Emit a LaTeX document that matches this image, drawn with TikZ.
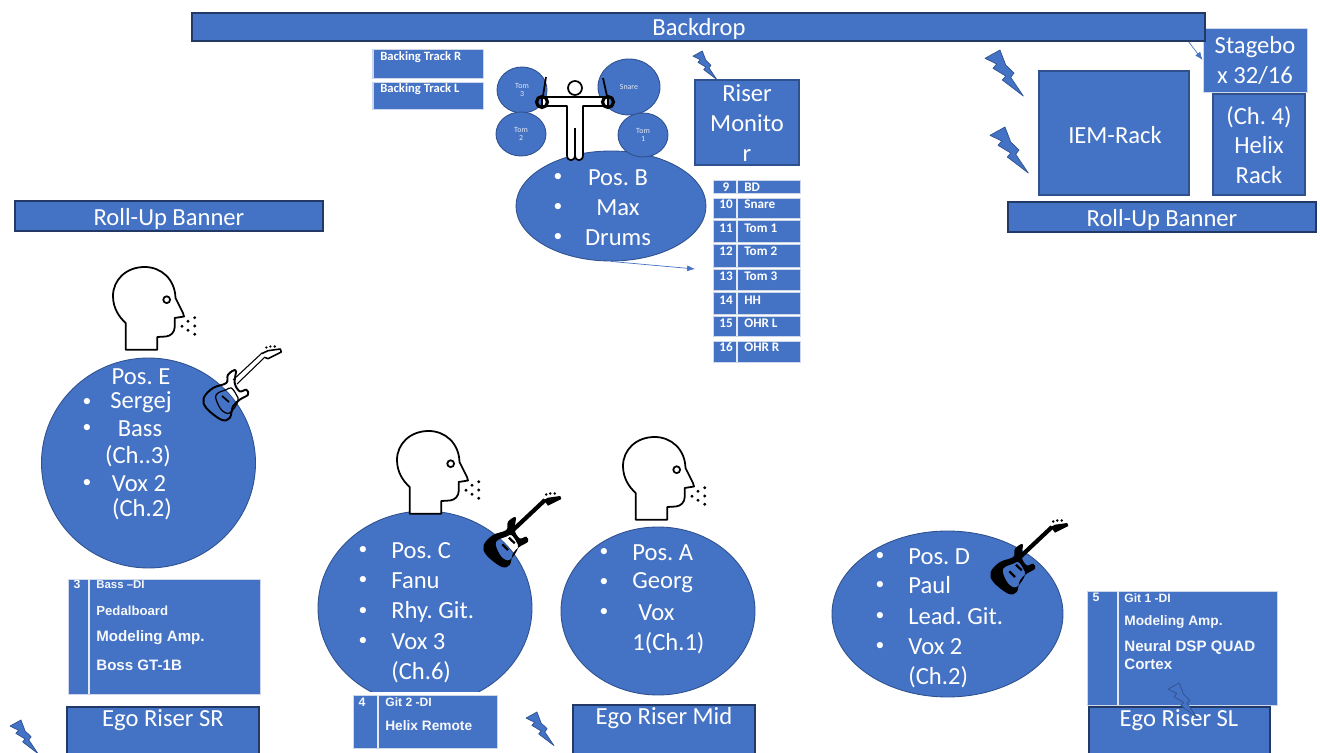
\documentclass[tikz,border=0pt]{standalone}
\usepackage{xcolor}
\usepackage{fontspec}
\setmainfont{Carlito}
\newfontfamily\arialfont{Liberation Sans}
\usepackage{tikz}
\usetikzlibrary{shapes.geometric,arrows.meta}
\definecolor{stageblue}{HTML}{4472C4}
\definecolor{stageline}{HTML}{2F528F}
\definecolor{tableline}{HTML}{CFD7EA}
\def\px{0.02cm}
\def\guitarbody{plot[smooth cycle,tension=0.6] coordinates {(33.7,24.3) (26,28.7) (24.3,37) (11,42) (1.7,52) (4.3,62) (19.3,73.7) (27.7,72) (31,60.3) (37.7,53.7) (46,48.7) (44.3,43.7) (37.7,45.3) (32.7,37)}}
\def\guitarhole{plot[smooth cycle,tension=0.6] coordinates {(24.3,43.7) (16,47) (13.7,52) (19.3,63.7) (27.7,67) (36,55.3) (34.3,48.7) (29.3,42)}}
\tikzset{
	txt/.style={text=white,inner sep=0pt,yshift=-0.03cm,font=\fontsize{14}{17}\selectfont\frenchspacing,align=center},
	bul/.style={text=white,inner sep=0pt,yshift=-0.03cm,font=\fontsize{10}{12}\selectfont},
	smalltxt/.style={text=white!85!stageblue,inner sep=0pt,font=\fontsize{4.5}{4.9}\selectfont,align=center},
	tagtxt/.style={text=white,inner sep=0pt,anchor=west,font=\fontsize{7.5}{9}\selectfont\bfseries},
	tagarial/.style={text=white!95!stageblue,inner sep=0pt,anchor=west,font=\fontsize{#1}{10.5}\selectfont\arialfont\bfseries,align=left},
	band/.style={draw=stageline,fill=stageblue,line width=0.6pt,inner sep=0pt},
	darkband/.style={draw=stageline!70!black,fill=stageblue,line width=0.7pt,inner sep=0pt},
	lightbox/.style={draw=tableline,fill=stageblue,line width=0.5pt,inner sep=0pt},
	drum/.style={ellipse,draw=stageline,fill=stageblue,line width=0.5pt,inner sep=0pt},
	wire/.style={stageblue,line width=0.4pt,-{Latex[length=4.5pt,width=3.5pt]}},
	pics/head/.style={code={
		\draw[black,fill=white,line width=1pt,line join=round] (12.7,82.7) -- (44.3,82.7) -- (44.3,70)
			-- (53,69.5) .. controls (58,69) and (61.7,65) .. (61.7,60) -- (61.7,51) -- (71,49.5)
			-- (70,46) -- (62.5,31) .. controls (62,12) and (48,0) .. (31.7,0)
			.. controls (13,0) and (0,13) .. (0,29) .. controls (0,41) and (6,50) .. (12.7,56) -- cycle;
		\draw[black,line width=1pt] (53.7,32.7) circle (3.4);
		\foreach \i/\j in {81.7/50.7,75/54.3,69/59.3,81.7/59,75/63.3,81.7/67.3}{
			\fill[black] (\i,\j) circle (1.6);
		}
	}},
	pics/guitarline/.style={code={
		\draw[black,line width=0.6pt] (31,34) -- (60,7) (35,38) -- (63,11);
		\draw[black,line width=0.9pt,line join=round] (60,7.5) -- (66,4.7) -- (78.3,3) -- (79.3,6) -- (66,12.7) -- (63,11.5);
		\foreach \i/\j in {64.3/1.5,68.3/0.5,72.7/0.5}{
			\fill[black] (\i,\j) circle (1.3);
		}
		\draw[black,line width=1.1pt,line join=round] \guitarbody;
		\draw[black,line width=0.7pt] \guitarhole;
		\draw[black,line width=1pt] (20,50) -- (27,56);
	}},
	pics/guitarsolid/.style={code={
		\draw[black,line width=2.4pt] (30,38) -- (63,7);
		\fill[black,line join=round] (61.7,7) -- (66,4.7) -- (78.3,3) -- (79.3,6) -- (66,12.7) -- cycle;
		\foreach \i/\j in {64.3/1.5,68.3/0.5,72.7/0.5}{
			\fill[black] (\i,\j) circle (1.4);
		}
		\fill[black,even odd rule] \guitarbody \guitarhole;
		\draw[black,line width=1.3pt] (20.3,51.3) -- (26,57) (27,44.7) -- (32.7,50.3);
	}},
	pics/bolt/.style={code={
		\draw[stageline,fill=#1,line width=0.4pt,line join=round] (0,8.3) -- (15,0) -- (20.7,15) -- (29,23) -- (25.7,27.3) -- (38.3,46) -- (17.3,30) -- (20.7,26) -- (8,18.3) -- (11.7,14) -- cycle;
	}}
}

\begin{document}
\begin{tikzpicture}[x=\px,y=-\px]
	\clip (0,0) rectangle (1320,753);
	\useasboundingbox (0,0) rectangle (1320,753);

	%Backdrop and rack side
	\coordinate (backdropOut) at (1188,41);
	\node[lightbox,minimum width=104*\px,minimum height=64*\px] (stagebox) at (1255,60) {};
	\draw[wire] (backdropOut) -- (stagebox.west);
	\node[darkband,minimum width=1013*\px,minimum height=28*\px] (backdrop) at (698.5,27) {};
	\node[txt] (backdroptxt) at (699,27) {Backdrop};
	\node[txt] (stageboxtxt) at (1255,59) {Stagebo\\x 32/16};
	\node[band,minimum width=92*\px,minimum height=101*\px] (helix) at (1259,144.5) {};
	\node[txt] (helixtxt) at (1259,143.5) {(Ch. 4)\\Helix\\Rack};
	\node[band,minimum width=150*\px,minimum height=124*\px] (iem) at (1114,133) {};
	\node[txt] (iemtxt) at (1115,134) {IEM-Rack};
	\node[darkband,minimum width=308*\px,minimum height=30*\px] (bannerR) at (1162,217) {};
	\node[txt] (bannerRtxt) at (1162,218) {Roll-Up Banner};
	\node[darkband,minimum width=308*\px,minimum height=30*\px] (bannerL) at (169,216) {};
	\node[txt] (bannerLtxt) at (169,217) {Roll-Up Banner};

	%Backing tracks
	\foreach \n/\y/\h/\t in {R/63.5/29/Backing Track R,L/95.5/27/Backing Track L}{
		\node[lightbox,minimum width=111*\px,minimum height=\h*\px] (track\n) at (427.5,\y) {};
		\draw[tableline,line width=0.5pt] (373.5,\y-\h/2) -- (373.5,\y+\h/2);
	}
	\node[tagtxt,font=\fontsize{7.2}{9}\selectfont\bfseries] (trackRtxt) at (380,57) {Backing Track R};
	\node[tagtxt,font=\fontsize{7.2}{9}\selectfont\bfseries] (trackLtxt) at (380,89) {Backing Track L};

	%Pos. B with the drums
	\node[drum,minimum width=190*\px,minimum height=110*\px] (posB) at (611,206) {};
	\foreach \y/\t in {176/{Pos. B},206/Max,236/Drums}{
		\node[bul] (bBul\y) at (558,\y) {•};
		\node[txt] (bTxt\y) at (618,\y) {\t};
	}
	\node[drum,smalltxt,minimum width=50*\px,minimum height=46*\px] (tomC) at (522,90) {Tom\\3};
	\node[drum,smalltxt,minimum width=50*\px,minimum height=44*\px] (tomB) at (521,134) {Tom\\2};
	\node[drum,smalltxt,minimum width=62*\px,minimum height=56*\px] (snare) at (629,87) {Snare};
	\node[drum,smalltxt,minimum width=50*\px,minimum height=44*\px] (tomA) at (643,135) {Tom\\1};

	%Drummer
	\draw[black,fill=white,line width=1pt,line join=round] (542,97) -- (608,97) -- (608,106) -- (583,106) -- (583,155)
		.. controls (583,162) and (575,162) .. (575,155) .. controls (575,162) and (567,162) .. (567,155)
		-- (567,106) -- (542,106) -- cycle;
	\draw[black,line width=1pt] (575,128) -- (575,155);
	\draw[black,line width=1pt] (575,88) circle (7);
	\draw[black,line width=1.8pt] (542,102) circle (5.5) (608,102) circle (5.5);
	\draw[black,line width=1pt] (546,77) -- (543,96) (603,78) -- (607,96);

	%Riser monitor
	\node[band,minimum width=104*\px,minimum height=85*\px] (riser) at (747,122.5) {};
	\node[txt] (risertxt) at (747,121.5) {Riser\\Monito\\r};
	\pic[scale=0.62] at (693,51) {bolt=stageblue};

	%Kanaele der Drums
	\foreach \n/\t/\y/\h/\ty in {9/BD/186.5/13/187,10/Snare/208/20/204,11/Tom 1/231/22/228,12/Tom 2/255.5/23/251,13/Tom 3/279.5/21/276,14/HH/303/22/300,15/OHR L/326/20/323,16/OHR R/351.5/21/347}{
		\node[lightbox,minimum width=87*\px,minimum height=\h*\px] (chan\n) at (756.5,\y) {};
		\draw[white!85!stageblue,line width=0.6pt] (737,\y-\h/2) -- (737,\y+\h/2);
		\node[tagtxt,anchor=center] (chanNum\n) at (726,\ty) {\n};
		\node[tagtxt] (chanTxt\n) at (744,\ty) {\t};
	}
	\coordinate (chanIn) at (695,269);
	\draw[wire] (posB.south) -- (chanIn);

	%Pos. E
	\node[drum,minimum width=214*\px,minimum height=210*\px] (posE) at (148.5,463) {};
	\foreach \y/\x/\t in {375/141/{Pos. E},401/141/Sergej,427/140/Bass,455/138/{(Ch..3)},482/139/{Vox 2},508/142/{(Ch.2)}}{
		\node[txt] (eTxt\y) at (\x,\y) {\t};
	}
	\foreach \y in {401,427,482}{
		\node[bul] (eBul\y) at (87,\y) {•};
	}
	\pic at (113,267) {head};
	\pic at (202,346) {guitarline};

	%Pos. C
	\node[drum,minimum width=214*\px,minimum height=194*\px] (posC) at (425,608) {};
	\foreach \y/\t in {549/{Pos. C},579/Fanu,610/{Rhy. Git.},640/{Vox 3}}{
		\node[bul] (cBul\y) at (363,\y) {•};
		\node[txt,anchor=west] (cTxt\y) at (391,\y) {\t};
	}
	\node[txt,anchor=west] (cTxt671) at (391,671) {(Ch.6)};
	\pic at (397,431) {head};
	\pic at (482,493) {guitarsolid};

	%Pos. A
	\node[drum,minimum width=194*\px,minimum height=168*\px] (posA) at (658,611) {};
	\foreach \y/\x/\t in {551/632/{Pos. A},581/632/Georg,611/638/Vox}{
		\node[bul] (aBul\y) at (604,\y) {•};
		\node[txt,anchor=west] (aTxt\y) at (\x,\y) {\t};
	}
	\node[txt,anchor=west] (aTxt642) at (632,642) {1(Ch.1)};
	\pic at (623,437) {head};

	%Pos. D
	\node[drum,minimum width=231*\px,minimum height=166*\px] (posD) at (947.5,614) {};
	\foreach \y/\t in {555/{Pos. D},584/Paul,615/{Lead. Git.},645/{Vox 2}}{
		\node[bul] (dBul\y) at (880,\y) {•};
		\node[txt,anchor=west] (dTxt\y) at (908,\y) {\t};
	}
	\node[txt,anchor=west] (dTxt676) at (908,676) {(Ch.2)};
	\pic at (989,520) {guitarsolid};

	%Ego risers
	\node[darkband,minimum width=192*\px,minimum height=60*\px] (egoSR) at (163,737) {};
	\node[darkband,minimum width=182*\px,minimum height=60*\px] (egoMid) at (664,735) {};
	\node[darkband,minimum width=181*\px,minimum height=60*\px] (egoSL) at (1179.5,737) {};
	\node[txt] (egoSRtxt) at (163,719) {Ego Riser SR};
	\node[txt] (egoMidtxt) at (664,717) {Ego Riser Mid};
	\node[txt] (egoSLtxt) at (1179,719) {Ego Riser SL};

	%Kanal 3
	\node[lightbox,minimum width=192*\px,minimum height=115*\px] (chan3) at (164,636.5) {};
	\draw[white!85!stageblue,line width=0.6pt] (89,579) -- (89,694);
	\node[tagarial=7,anchor=center] (chanNum3) at (77,584) {3};
	\node[tagarial=6.5] (chanTxt3a) at (96,585) {Bass –DI};
	\node[tagarial=7.5] (chanTxt3b) at (96,611) {Pedalboard};
	\node[tagarial=8.6] (chanTxt3c) at (96,638) {Modeling Amp.};
	\node[tagarial=8.6] (chanTxt3d) at (96,665) {Boss GT-1B};

	%Kanal 4
	\fill[white] (353,692) rectangle (497,695);
	\node[lightbox,minimum width=144*\px,minimum height=53*\px] (chan4) at (425,721.5) {};
	\draw[white!85!stageblue,line width=0.6pt] (378,695) -- (378,748);
	\node[tagarial=7,anchor=center] (chanNum4) at (362,702) {4};
	\node[tagarial=6.9] (chanTxt4a) at (385,702) {Git 2 -DI};
	\node[tagarial=7.8] (chanTxt4b) at (385,726) {Helix Remote};

	%Kanal 5
	\node[lightbox,minimum width=190*\px,minimum height=114*\px] (chan5) at (1182,648) {};
	\draw[white!85!stageblue,line width=0.6pt] (1118,591) -- (1118,705);
	\node[tagarial=7,anchor=center] (chanNum5) at (1096,597) {5};
	\node[tagarial=6.9] (chanTxt5a) at (1124,598) {Git 1 -DI};
	\node[tagarial=7.8] (chanTxt5b) at (1124,622) {Modeling Amp.};
	\node[tagarial=8.6,anchor=north west] (chanTxt5c) at (1124,640) {Neural DSP QUAD\\Cortex};

	%Blitze
	\pic at (985,50) {bolt=stageblue};
	\pic at (990,127) {bolt=stageblue};
	\pic[scale=0.73] at (10,720) {bolt=stageblue};
	\pic[scale=0.73] at (526,712) {bolt=stageblue};
	\pic[scale=0.75] at (1168,683) {bolt=stageblue};
\end{tikzpicture}
\end{document}
